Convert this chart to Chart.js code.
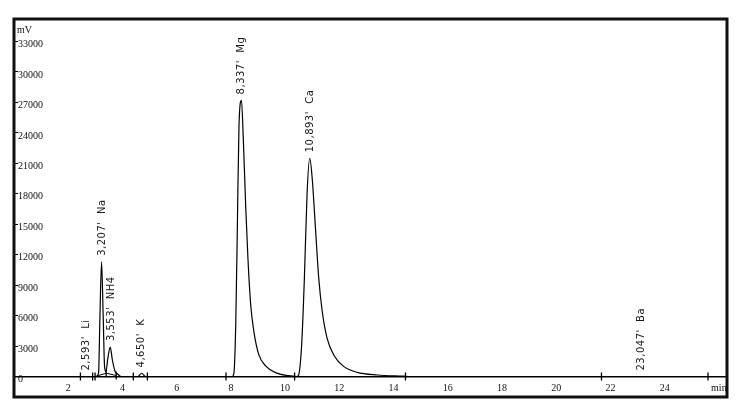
<!DOCTYPE html>
<html>
<head>
<meta charset="utf-8">
<script src="https://cdn.jsdelivr.net/npm/chart.js@4.4.0/dist/chart.umd.min.js"></script>
<style>
  html, body { margin: 0; padding: 0; background: #fff; }
  #wrap { width: 743px; height: 417px; }
</style>
</head>
<body>
<div id="wrap"><canvas id="chrom" width="743" height="417"></canvas></div>
<script>
// detector trace: retention time (min) and signal (mV)
const traceTimes  = [0, 2.40, 3.05, 3.12, 3.17, 3.23, 3.29, 3.34, 3.39, 3.47, 3.55, 3.63, 3.73, 3.82, 3.95,
                     4.57, 4.71, 4.85,
                     8.05, 8.11, 8.18, 8.24, 8.30, 8.39, 8.46, 8.55, 8.63, 8.73, 8.85, 9.03, 9.28, 9.65, 10.13,
                     10.42, 10.49, 10.61, 10.71, 10.81, 10.91, 11.00, 11.12, 11.24, 11.37, 11.55, 11.80, 12.17,
                     12.66, 13.40, 14.36, 14.60, 26.3];
const traceSignal = [0, 0, 0, 400, 5900, 11300, 5900, 1000, 480, 1950, 2900, 1600, 500, 250, 0,
                     0, 320, 0,
                     0, 300, 5200, 15000, 24800, 27200, 23300, 16500, 11600, 7100, 4400, 2150, 1050, 380, 80,
                     0, 100, 3100, 9600, 18000, 21500, 19500, 14600, 9700, 6400, 3750, 2100, 970,
                     410, 150, 30, 0, 0];

// integration baseline drawn under Na / NH4
const baseTimes  = [2.99, 3.40, 3.77];
const baseLevels = [0, 320, 100];

// peak start / end markers on the baseline
const markerTimes  = [2.45, 2.90, 2.99, 3.40, 3.77, 4.40, 4.92, 7.82, 10.35, 14.44, 21.67, 25.60];
const markerLevels = [0, 0, 0, 320, 100, 0, 0, 0, 0, 0, 0, 0];

// peak annotations
const peakTimes = [2.68, 3.25, 3.60, 4.70, 8.39, 10.93, 23.14];
const peakTops  = [0, 11300, 2900, 300, 27200, 21500, 0];
const peakTexts = ["2,593'  Li", "3,207'  Na", "3,553'  NH4", "4,650'  K", "8,337'  Mg", "10,893'  Ca", "23,047'  Ba"];

// axis ticks
const xTickValues = [2, 4, 6, 8, 10, 12, 14, 16, 18, 20, 22, 24, 26];
const xTickLabels = ['2', '4', '6', '8', '10', '12', '14', '16', '18', '20', '22', '24', 'min'];
const yTickValues = [0, 3000, 6000, 9000, 12000, 15000, 18000, 21000, 24000, 27000, 30000, 33000];

const axisFont = { family: '"Liberation Serif", "DejaVu Serif", serif', size: 10 };

const chromDecor = {
  id: 'chromDecor',
  afterDatasetsDraw(chart) {
    const { ctx, chartArea: a, scales: { x, y } } = chart;
    ctx.save();
    // peak names, written upwards above each peak
    ctx.fillStyle = '#1a1a1a';
    ctx.font = '10px "DejaVu Sans"';
    ctx.textAlign = 'left';
    ctx.textBaseline = 'middle';
    if ('letterSpacing' in ctx) ctx.letterSpacing = '0.5px';
    peakTexts.forEach((txt, i) => {
      ctx.save();
      ctx.translate(x.getPixelForValue(peakTimes[i]), y.getPixelForValue(peakTops[i]) - 6);
      ctx.rotate(-Math.PI / 2);
      ctx.fillText(txt, 0, 0);
      ctx.restore();
    });
    if ('letterSpacing' in ctx) ctx.letterSpacing = '0px';
    ctx.fillStyle = '#111';
    ctx.font = '10px "Liberation Serif"';
    ctx.fillText('mV', a.left + 3, a.top + 11);
    // outer frame
    ctx.lineWidth = 3;
    ctx.strokeStyle = '#111';
    ctx.strokeRect(a.left, a.top, a.right - a.left, a.bottom - a.top);
    ctx.restore();
  }
};

new Chart(document.getElementById('chrom'), {
  type: 'line',
  data: {
    datasets: [
      {
        data: traceTimes.map((t, i) => ({ x: t, y: traceSignal[i] })),
        borderColor: '#000',
        borderWidth: 1.2,
        pointRadius: 0,
        cubicInterpolationMode: 'monotone',
        fill: false
      },
      {
        data: baseTimes.map((t, i) => ({ x: t, y: baseLevels[i] })),
        borderColor: '#000',
        borderWidth: 1,
        pointRadius: 0,
        tension: 0
      },
      {
        type: 'scatter',
        data: markerTimes.map((t, i) => ({ x: t, y: markerLevels[i] })),
        pointStyle: 'line',
        rotation: 90,
        pointRadius: 4,
        borderColor: '#000',
        borderWidth: 1.3,
        showLine: false
      }
    ]
  },
  options: {
    responsive: false,
    animation: false,
    layout: { padding: { left: 10, top: 19, right: 16, bottom: 20 } },
    plugins: { legend: { display: false }, tooltip: { enabled: false } },
    scales: {
      x: {
        type: 'linear',
        min: 0,
        max: 26.3,
        position: { y: 0 },
        afterBuildTicks: s => { s.ticks = xTickValues.map(v => ({ value: v })); },
        ticks: {
          callback: (v, i) => xTickLabels[i],
          font: axisFont,
          color: '#111',
          padding: 6,
          maxRotation: 0,
          autoSkip: false
        },
        grid: { display: false, drawTicks: false },
        border: { display: true, color: '#000', width: 1.5 }
      },
      y: {
        type: 'linear',
        min: -2020,
        max: 35220,
        afterBuildTicks: s => { s.ticks = yTickValues.map(v => ({ value: v })); },
        ticks: {
          callback: v => String(v),
          mirror: true,
          padding: 4,
          labelOffset: 3,
          font: axisFont,
          color: '#111',
          autoSkip: false
        },
        grid: { display: true, drawOnChartArea: false, drawTicks: true, tickLength: -4, color: '#000', lineWidth: 1 },
        border: { display: false }
      }
    }
  },
  plugins: [chromDecor]
});
</script>
</body>
</html>
